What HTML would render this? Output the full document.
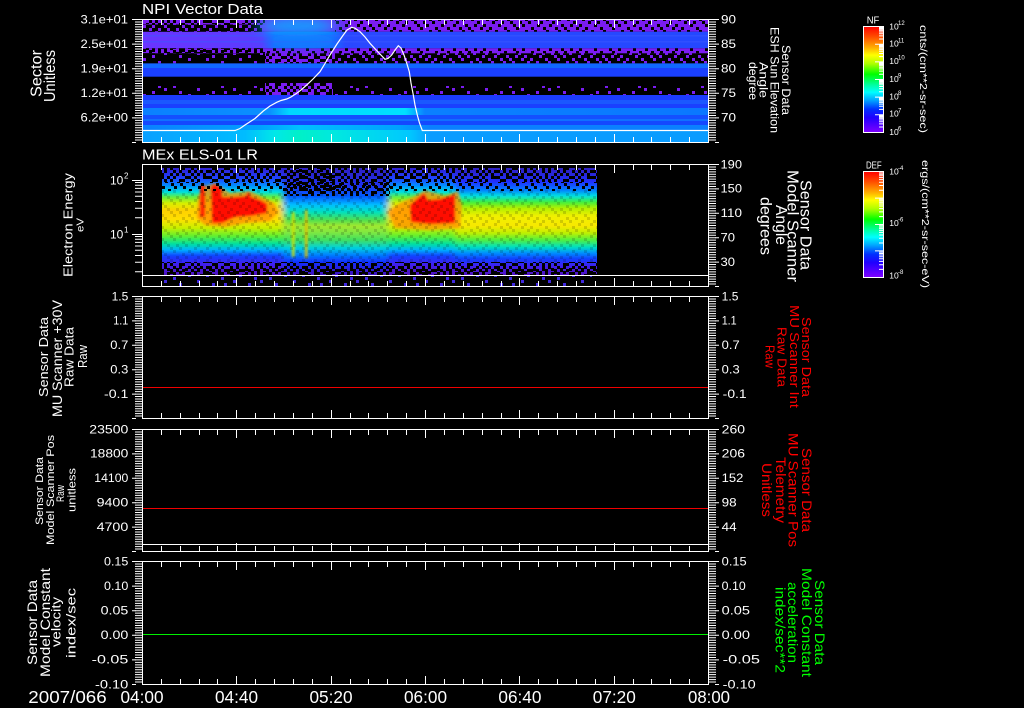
<!DOCTYPE html>
<html><head><meta charset="utf-8"><style>
html,body{margin:0;padding:0;background:#000;}
body{width:1024px;height:708px;overflow:hidden;position:relative}
svg{display:block;position:absolute;left:0;top:0}
text{font-family:"Liberation Sans",sans-serif;fill:#fff}
</style></head><body>
<svg width="1024" height="708" viewBox="0 0 1024 708" xmlns="http://www.w3.org/2000/svg" xmlns:xlink="http://www.w3.org/1999/xlink">
<defs>
<path id="cS" fill="#000" d="M3,0h3v3h-3zM18,0h3v3h-3zM33,0h3v3h-3zM42,0h3v3h-3zM57,0h3v3h-3zM69,0h3v3h-3zM81,0h3v3h-3zM90,0h3v3h-3zM0,3h3v3h-3zM9,3h3v3h-3zM24,3h3v3h-3zM36,3h3v3h-3zM51,3h3v3h-3zM63,3h3v3h-3zM75,3h3v3h-3zM84,3h3v3h-3zM6,6h3v3h-3zM15,6h3v3h-3zM27,6h3v3h-3zM45,6h3v3h-3zM54,6h3v3h-3zM66,6h3v3h-3zM78,6h3v3h-3zM87,6h3v3h-3zM12,9h3v3h-3zM21,9h3v3h-3zM30,9h3v3h-3zM39,9h3v3h-3zM48,9h3v3h-3zM60,9h3v3h-3zM72,9h3v3h-3zM93,9h3v3h-3z"/>
<path id="cM" fill="#000" d="M0,0h3v3h-3zM6,0h3v3h-3zM12,0h3v3h-3zM21,0h3v3h-3zM27,0h3v3h-3zM36,0h3v3h-3zM45,0h3v3h-3zM51,0h3v3h-3zM60,0h3v3h-3zM66,0h3v3h-3zM75,0h3v3h-3zM81,0h3v3h-3zM87,0h3v3h-3zM93,0h3v3h-3zM3,3h3v3h-3zM9,3h3v3h-3zM15,3h3v3h-3zM18,3h3v3h-3zM24,3h3v3h-3zM30,3h3v3h-3zM33,3h3v3h-3zM39,3h3v3h-3zM48,3h3v3h-3zM57,3h3v3h-3zM63,3h3v3h-3zM69,3h3v3h-3zM78,3h3v3h-3zM84,3h3v3h-3zM90,3h3v3h-3zM0,6h3v3h-3zM9,6h3v3h-3zM12,6h3v3h-3zM21,6h3v3h-3zM24,6h3v3h-3zM36,6h3v3h-3zM42,6h3v3h-3zM48,6h3v3h-3zM54,6h3v3h-3zM60,6h3v3h-3zM72,6h3v3h-3zM75,6h3v3h-3zM81,6h3v3h-3zM90,6h3v3h-3zM93,6h3v3h-3zM3,9h3v3h-3zM6,9h3v3h-3zM15,9h3v3h-3zM18,9h3v3h-3zM27,9h3v3h-3zM33,9h3v3h-3zM39,9h3v3h-3zM45,9h3v3h-3zM51,9h3v3h-3zM57,9h3v3h-3zM66,9h3v3h-3zM69,9h3v3h-3zM78,9h3v3h-3zM84,9h3v3h-3z"/>
<path id="cV" fill="#000" d="M12,0h3v3h-3zM39,0h3v3h-3zM72,0h3v3h-3zM3,3h3v3h-3zM27,3h3v3h-3zM54,3h3v3h-3zM87,3h3v3h-3zM18,6h3v3h-3zM63,6h3v3h-3zM81,6h3v3h-3zM0,9h3v3h-3zM33,9h3v3h-3zM48,9h3v3h-3z"/>
<pattern id="pS" patternUnits="userSpaceOnUse" x="0" y="0" width="96" height="12"><use xlink:href="#cS"/></pattern>
<pattern id="pS2" patternUnits="userSpaceOnUse" x="41" y="7" width="96" height="12"><use xlink:href="#cS"/></pattern>
<pattern id="pM" patternUnits="userSpaceOnUse" x="17" y="2" width="96" height="12"><use xlink:href="#cM"/></pattern>
<pattern id="pV" patternUnits="userSpaceOnUse" x="29" y="4" width="96" height="12"><use xlink:href="#cV"/></pattern>
<mask id="mS" maskUnits="userSpaceOnUse" x="0" y="0" width="1024" height="708"><rect width="1024" height="708" fill="#fff"/><rect width="1024" height="708" fill="url(#pS2)"/></mask>
<mask id="mV" maskUnits="userSpaceOnUse" x="0" y="0" width="1024" height="708"><rect width="1024" height="708" fill="#fff"/><rect width="1024" height="708" fill="url(#pV)"/></mask>

<filter id="gb" x="-50%" y="-50%" width="200%" height="200%"><feGaussianBlur stdDeviation="9 5"/></filter>
<filter id="hb" x="-5%" y="-5%" width="110%" height="110%"><feGaussianBlur stdDeviation="3 0.6"/></filter>
<filter id="rb" x="-10%" y="-10%" width="120%" height="120%"><feGaussianBlur stdDeviation="1.4"/></filter>

<linearGradient id="r3" gradientUnits="userSpaceOnUse" x1="142" y1="0" x2="708" y2="0"><stop offset="0" stop-color="#6a34ff"/><stop offset=".212" stop-color="#5a3cff"/><stop offset=".235" stop-color="#1870ff"/><stop offset=".332" stop-color="#1870ff"/><stop offset=".359" stop-color="#2a48ff"/><stop offset="1" stop-color="#2448ff"/></linearGradient>
<linearGradient id="r9" gradientUnits="userSpaceOnUse" x1="142" y1="0" x2="708" y2="0"><stop offset="0" stop-color="#0a80ff"/><stop offset=".226" stop-color="#0a90ff"/><stop offset=".261" stop-color="#00d8ff"/><stop offset=".465" stop-color="#00e0ff"/><stop offset=".5" stop-color="#0a80ff"/><stop offset="1" stop-color="#0a78ff"/></linearGradient>
<linearGradient id="r11" gradientUnits="userSpaceOnUse" x1="142" y1="0" x2="708" y2="0"><stop offset="0" stop-color="#0a80ff"/><stop offset=".208" stop-color="#00a0ff"/><stop offset=".279" stop-color="#00c0ff"/><stop offset=".456" stop-color="#00a0ff"/><stop offset=".509" stop-color="#0a80ff"/><stop offset="1" stop-color="#0a80ff"/></linearGradient>
<linearGradient id="r12" gradientUnits="userSpaceOnUse" x1="142" y1="0" x2="708" y2="0"><stop offset="0" stop-color="#0aa0ff"/><stop offset=".182" stop-color="#00bcff"/><stop offset=".235" stop-color="#00e8e8"/><stop offset=".279" stop-color="#00f0c8"/><stop offset=".341" stop-color="#00e8e0"/><stop offset=".473" stop-color="#00c8ff"/><stop offset=".509" stop-color="#0a9cff"/><stop offset="1" stop-color="#0a9cff"/></linearGradient>

<linearGradient id="gS" gradientUnits="userSpaceOnUse" x1="0" y1="168" x2="0" y2="275"><stop offset="0" stop-color="#3020d0"/><stop offset=".093" stop-color="#2040ff"/><stop offset=".168" stop-color="#0090ff"/><stop offset=".224" stop-color="#00e0e0"/><stop offset=".271" stop-color="#60f040"/><stop offset=".33" stop-color="#d8f000"/><stop offset=".40" stop-color="#ffd000"/><stop offset=".48" stop-color="#ffe000"/><stop offset=".56" stop-color="#c8f000"/><stop offset=".636" stop-color="#60f030"/><stop offset=".71" stop-color="#00e0a0"/><stop offset=".766" stop-color="#00b0ff"/><stop offset=".822" stop-color="#1040ff"/><stop offset=".897" stop-color="#4020f0"/><stop offset="1" stop-color="#5010c0"/></linearGradient>
<linearGradient id="gW" gradientUnits="userSpaceOnUse" x1="0" y1="168" x2="0" y2="275"><stop offset="0" stop-color="#3020c0"/><stop offset=".159" stop-color="#2030f0"/><stop offset=".271" stop-color="#0060ff"/><stop offset=".346" stop-color="#00c0ff"/><stop offset=".411" stop-color="#00e0c0"/><stop offset=".486" stop-color="#50e050"/><stop offset=".54" stop-color="#a0e830"/><stop offset=".6" stop-color="#80e840"/><stop offset=".673" stop-color="#40e060"/><stop offset=".748" stop-color="#00d0e0"/><stop offset=".813" stop-color="#0080ff"/><stop offset=".879" stop-color="#1030ff"/><stop offset="1" stop-color="#4010c0"/></linearGradient>
<linearGradient id="gT" gradientUnits="userSpaceOnUse" x1="0" y1="168" x2="0" y2="275"><stop offset="0" stop-color="#3020c0"/><stop offset=".131" stop-color="#2030ff"/><stop offset=".206" stop-color="#0080ff"/><stop offset=".262" stop-color="#00e0e0"/><stop offset=".318" stop-color="#40f040"/><stop offset=".374" stop-color="#b0f000"/><stop offset=".449" stop-color="#f0f000"/><stop offset=".542" stop-color="#f8e800"/><stop offset=".607" stop-color="#c0f000"/><stop offset=".673" stop-color="#50f040"/><stop offset=".738" stop-color="#00e0c0"/><stop offset=".794" stop-color="#0090ff"/><stop offset=".85" stop-color="#1040ff"/><stop offset=".916" stop-color="#4020f0"/><stop offset="1" stop-color="#5010c0"/></linearGradient>

<linearGradient id="cb" x1="0" y1="0" x2="0" y2="1"><stop offset="0" stop-color="#ff0000"/><stop offset=".1" stop-color="#ff5000"/><stop offset=".2" stop-color="#ffb000"/><stop offset=".27" stop-color="#ffff00"/><stop offset=".35" stop-color="#b0ff00"/><stop offset=".45" stop-color="#00ff00"/><stop offset=".55" stop-color="#00ffa0"/><stop offset=".62" stop-color="#00ffff"/><stop offset=".7" stop-color="#00a0ff"/><stop offset=".78" stop-color="#0030ff"/><stop offset=".86" stop-color="#2000ff"/><stop offset="1" stop-color="#8000ff"/></linearGradient>

<clipPath id="c1"><rect x="143" y="20" width="565" height="122"/></clipPath>
<clipPath id="c2"><rect x="162" y="168" width="435" height="107"/></clipPath>

<path id="xt" stroke="#fff" stroke-width="1" fill="none" d="M142.5,0v9M161.5,0v6M180.5,0v6M199.5,0v6M217.5,0v6M236.5,0v9M255.5,0v6M274.5,0v6M293.5,0v6M312.5,0v6M331.5,0v9M350.5,0v6M368.5,0v6M387.5,0v6M406.5,0v6M425.5,0v9M444.5,0v6M463.5,0v6M482.5,0v6M501.5,0v6M519.5,0v9M538.5,0v6M557.5,0v6M576.5,0v6M595.5,0v6M614.5,0v9M633.5,0v6M651.5,0v6M670.5,0v6M689.5,0v6M708.5,0v9"/>
<path id="d44" stroke="#fff" stroke-width="1" fill="none" d="M0,0h7m-7,2.44h7m-7,2.44h7m-7,2.44h7m-7,2.44h7m-7,2.44h7m-7,2.44h7m-7,2.44h7m-7,2.44h7m-7,2.44h7m-7,2.44h7m-7,2.44h7m-7,2.44h7m-7,2.44h7m-7,2.44h7m-7,2.44h7m-7,2.44h7m-7,2.44h7m-7,2.44h7m-7,2.44h7m-7,2.44h7m-7,2.44h7m-7,2.44h7m-7,2.44h7m-7,2.44h7m-7,2.44h7m-7,2.44h7m-7,2.44h7m-7,2.44h7m-7,2.44h7m-7,2.44h7m-7,2.44h7m-7,2.44h7m-7,2.44h7m-7,2.44h7m-7,2.44h7m-7,2.44h7m-7,2.44h7m-7,2.44h7m-7,2.44h7m-7,2.44h7m-7,2.44h7m-7,2.44h7m-7,2.44h7m-7,2.44h7m-7,2.44h7m-7,2.44h7m-7,2.44h7m-7,2.44h7m-7,2.44h7"/>
<path id="d46" stroke="#fff" stroke-width="1" fill="none" d="M0,0h7m-7,2.46h7m-7,2.46h7m-7,2.46h7m-7,2.46h7m-7,2.46h7m-7,2.46h7m-7,2.46h7m-7,2.46h7m-7,2.46h7m-7,2.46h7m-7,2.46h7m-7,2.46h7m-7,2.46h7m-7,2.46h7m-7,2.46h7m-7,2.46h7m-7,2.46h7m-7,2.46h7m-7,2.46h7m-7,2.46h7m-7,2.46h7m-7,2.46h7m-7,2.46h7m-7,2.46h7m-7,2.46h7m-7,2.46h7m-7,2.46h7m-7,2.46h7m-7,2.46h7m-7,2.46h7m-7,2.46h7m-7,2.46h7m-7,2.46h7m-7,2.46h7m-7,2.46h7m-7,2.46h7m-7,2.46h7m-7,2.46h7m-7,2.46h7m-7,2.46h7m-7,2.46h7m-7,2.46h7m-7,2.46h7m-7,2.46h7m-7,2.46h7m-7,2.46h7m-7,2.46h7m-7,2.46h7m-7,2.46h7"/>
</defs>

<rect width="1024" height="708" fill="#000"/>

<!-- ================= PANEL 1 ================= -->
<g clip-path="url(#c1)">
 <rect x="142" y="20" width="566" height="4.5" fill="#7a1cf2"/>
 <rect x="142" y="24.5" width="566" height="7.2" fill="#7a1cf2"/>
 <rect x="142" y="31.7" width="566" height="16.6" fill="url(#r3)"/>
 <rect x="142" y="35" width="566" height="1.5" fill="#3a58ff" opacity=".5"/>
 <rect x="142" y="41" width="566" height="1.5" fill="#3a58ff" opacity=".5"/>
 <rect x="142" y="48.3" width="566" height="15" fill="#7a1cf2"/>
 <rect x="142" y="63.3" width="566" height="4.7" fill="#1068ff"/>
 <rect x="142" y="68" width="566" height="8.7" fill="#1a40ff"/>
 <rect x="142" y="95" width="566" height="5" fill="#1c3cff"/>
 <rect x="142" y="100" width="566" height="4" fill="#1a58ff"/>
 <rect x="142" y="104" width="566" height="4" fill="#1a40ff"/>
 <rect x="142" y="108" width="566" height="7" fill="url(#r9)"/>
 <rect x="142" y="115" width="566" height="4" fill="#1450ff"/>
 <rect x="142" y="119" width="566" height="2" fill="#1070ff"/>
 <rect x="142" y="121" width="566" height="4" fill="#1448ff"/>
 <rect x="142" y="125" width="566" height="5" fill="url(#r11)"/>
 <rect x="142" y="130" width="566" height="12" fill="url(#r12)"/>
 <rect x="142" y="86" width="566" height="9" fill="#7a1cf2"/>
 <rect x="265" y="83" width="68" height="12" fill="#7a1cf2"/>
 <!-- speckles -->
 <rect x="142" y="20" width="123" height="4.5" fill="url(#pM)"/>
 <rect x="335" y="20" width="373" height="4.5" fill="url(#pS)"/>
 <rect x="142" y="24.5" width="120" height="7.2" fill="#000" mask="url(#mS)"/>
 <rect x="335" y="24.5" width="373" height="7.2" fill="url(#pS)"/>
 <rect x="142" y="48.3" width="123" height="5" fill="url(#pS2)"/>
 <rect x="142" y="48.3" width="123" height="5" fill="url(#pM)"/>
 <rect x="265" y="48.3" width="443" height="5" fill="url(#pS)"/>
 <rect x="142" y="53.3" width="123" height="10" fill="#000" mask="url(#mV)"/>
 <rect x="265" y="53.3" width="70" height="10" fill="url(#pM)"/>
 <rect x="335" y="53.3" width="373" height="10" fill="#000" mask="url(#mS)"/>
 <rect x="142" y="86" width="123" height="9" fill="#000" mask="url(#mV)"/>
 <rect x="333" y="86" width="375" height="9" fill="#000" mask="url(#mV)"/>
 <rect x="265" y="83" width="68" height="12" fill="url(#pM)"/>
 <!-- glow -->
 <ellipse cx="298" cy="26" rx="40" ry="10" fill="#10a8ff" filter="url(#gb)" opacity="0.85"/>
 <ellipse cx="302" cy="41" rx="34" ry="7" fill="#0a80ff" filter="url(#gb)" opacity="0.6"/>
</g>
<polyline fill="none" stroke="#fff" stroke-width="1.2" points="142.5,130.5 235,130.5 240,128.5 245,125 250,121.7 255,118.5 263.3,111 270,106 276.7,102.3 281,100.5 286.7,99 291,97 296.7,93.3 301,90 306.7,85 313,79 320,71.7 325,63.5 330,55 337,44 343.3,35 347,30 351.7,27.3 355,28.2 360,31.7 365,37 370,43.3 378,52 385,59.3 388,58.5 391.7,55 395,50 398.3,45.7 401,48 404,55 407,64 409.3,71.7 411,83 413.3,95 415,105 417.3,115 419.5,123 422.3,130.5 708,130.5"/>

<!-- ================= PANEL 2 ================= -->
<g clip-path="url(#c2)"><g filter="url(#hb)">
 <rect x="150" y="160" width="135" height="125" fill="url(#gS)"/>
 <rect x="283" y="160" width="105" height="125" fill="url(#gW)"/>
 <rect x="388" y="160" width="67" height="125" fill="url(#gS)"/>
 <rect x="455" y="160" width="160" height="125" fill="url(#gT)"/>
</g></g>
<g clip-path="url(#c2)"><g filter="url(#rb)">
 <polygon points="198,196 206,186 215,183 230,193 250,191 262,197 274,203 278,212 270,221 245,223 225,227 205,225 197,218" fill="#ff8c00" opacity=".75"/>
 <polygon points="211,187 214,184 222,188 222,197 235,197 246,196 248,191 251,197 260,200 267,204 267,213 250,216 235,217 222,223 212,223" fill="#ff1000"/>
 <rect x="200" y="185" width="5" height="32" fill="#ff2000"/>
 <polygon points="388,212 400,203 415,196 425,190 445,196 458,191 462,205 460,228 430,230 395,228" fill="#ff9000" opacity=".75"/>
 <polygon points="410,205 418,198 424,193 428,200 440,199 450,196 455,194 455,223 430,224 411,222" fill="#ff1000"/>
 <rect x="292" y="212" width="2.5" height="45" fill="#d0e000"/>
 <rect x="305" y="210" width="2.5" height="48" fill="#e0c000"/>
</g>
 <rect x="162" y="190" width="435" height="72" fill="url(#pS2)" opacity="0.15"/>
 <rect x="162" y="168" width="435" height="14" fill="url(#pM)"/>
 <rect x="162" y="182" width="435" height="9" fill="url(#pS)"/>
 <rect x="283" y="168" width="107" height="28" fill="url(#pM)"/>
 <rect x="290" y="168" width="45" height="22" fill="url(#pS2)"/>
 <rect x="162" y="262" width="435" height="13" fill="url(#pM)"/>
 <rect x="162" y="268" width="435" height="7" fill="url(#pS2)"/>
</g>
<rect x="162" y="276" width="430" height="10" fill="#4028e0"/>
<rect x="162" y="276" width="430" height="10" fill="#000" mask="url(#mV)"/>
<line x1="142" y1="275.5" x2="708" y2="275.5" stroke="#fff" stroke-width="1"/>

<!-- data lines -->
<line x1="143" y1="387.5" x2="708" y2="387.5" stroke="#f00000" stroke-width="1"/>
<line x1="143" y1="508.5" x2="708" y2="508.5" stroke="#f00000" stroke-width="1"/>
<line x1="142" y1="544.5" x2="708" y2="544.5" stroke="#fff" stroke-width="1"/>
<line x1="143" y1="634.5" x2="708" y2="634.5" stroke="#00f000" stroke-width="1"/>

<!-- frames -->
<g fill="none" stroke="#fff" stroke-width="1">
 <rect x="142.5" y="19.5" width="566" height="123"/>
 <rect x="142.5" y="164.5" width="566" height="122"/>
 <rect x="142.5" y="296.5" width="566" height="122"/>
 <rect x="142.5" y="429.5" width="566" height="122"/>
 <rect x="142.5" y="561.5" width="566" height="123"/>
</g>

<!-- x ticks -->
<use xlink:href="#xt" transform="translate(0,19)"/>
<use xlink:href="#xt" transform="translate(0,143) scale(1,-1)"/>
<use xlink:href="#xt" transform="translate(0,164)"/>
<use xlink:href="#xt" transform="translate(0,287) scale(1,-1)"/>
<use xlink:href="#xt" transform="translate(0,296)"/>
<use xlink:href="#xt" transform="translate(0,419) scale(1,-1)"/>
<use xlink:href="#xt" transform="translate(0,429)"/>
<use xlink:href="#xt" transform="translate(0,552) scale(1,-1)"/>
<use xlink:href="#xt" transform="translate(0,561)"/>
<use xlink:href="#xt" transform="translate(0,685) scale(1,-1)"/>

<!-- dense y ticks -->
<use xlink:href="#d46" transform="translate(135,19.5)"/>
<use xlink:href="#d46" transform="translate(709,19.5)"/>
<use xlink:href="#d44" transform="translate(709,164.5)"/>
<use xlink:href="#d44" transform="translate(135,296.5)"/>
<use xlink:href="#d44" transform="translate(709,296.5)"/>
<use xlink:href="#d44" transform="translate(135,429.5)"/>
<use xlink:href="#d44" transform="translate(709,429.5)"/>
<use xlink:href="#d46" transform="translate(135,561.5)"/>
<use xlink:href="#d46" transform="translate(709,561.5)"/>

<!-- major y ticks & log ticks -->
<path stroke="#fff" stroke-width="1" fill="none" d="
M132,19.5h4M132,44.1h4M132,68.7h4M132,93.3h4M132,117.9h4M132,142.5h4
M715,19.5h4M715,44.1h4M715,68.7h4M715,93.3h4M715,117.9h4M715,142.5h4
M132,180.5h10M132,234.5h10
M135,271.7h7M135,262.2h7M135,255.5h7M135,250.3h7M135,246h7M135,242.4h7M135,239.2h7M135,236.5h7
M135,217.7h7M135,208.2h7M135,201.5h7M135,196.3h7M135,192h7M135,188.4h7M135,185.2h7M135,182.5h7
M715,164.5h4M715,188.9h4M715,213.3h4M715,237.7h4M715,262.1h4M715,286.5h4
M132,296.5h4M132,320.9h4M132,345.3h4M132,369.7h4M132,394.1h4M132,418.5h4
M715,296.5h4M715,320.9h4M715,345.3h4M715,369.7h4M715,394.1h4M715,418.5h4
M132,429.5h4M132,453.9h4M132,478.3h4M132,502.7h4M132,527.1h4M132,551.5h4
M715,429.5h4M715,453.9h4M715,478.3h4M715,502.7h4M715,527.1h4M715,551.5h4
M132,561.5h4M132,586.1h4M132,610.7h4M132,635.3h4M132,659.9h4M132,684.5h4
M715,561.5h4M715,586.1h4M715,610.7h4M715,635.3h4M715,659.9h4M715,684.5h4"/>

<!-- titles -->
<text x="142" y="14" font-size="15" textLength="121" lengthAdjust="spacingAndGlyphs">NPI Vector Data</text>
<text x="142" y="159.3" font-size="15" textLength="116" lengthAdjust="spacingAndGlyphs">MEx ELS-01 LR</text>

<!-- left tick labels -->
<g font-size="11.5">
 <text x="80.5" y="23.3" textLength="47.5" lengthAdjust="spacingAndGlyphs">3.1e+01</text>
 <text x="80.5" y="47.9" textLength="47.5" lengthAdjust="spacingAndGlyphs">2.5e+01</text>
 <text x="80.5" y="72.5" textLength="47.5" lengthAdjust="spacingAndGlyphs">1.9e+01</text>
 <text x="80.5" y="97.1" textLength="47.5" lengthAdjust="spacingAndGlyphs">1.2e+01</text>
 <text x="80.5" y="121.7" textLength="47.5" lengthAdjust="spacingAndGlyphs">6.2e+00</text>
 <text x="110" y="184.3" textLength="13.3" lengthAdjust="spacingAndGlyphs">10</text>
 <text x="124" y="178.5" font-size="8">2</text>
 <text x="110" y="238.3" textLength="13.3" lengthAdjust="spacingAndGlyphs">10</text>
 <text x="124" y="232.5" font-size="8">1</text>
 <text x="111.6" y="300.3" textLength="16.7" lengthAdjust="spacingAndGlyphs">1.5</text>
 <text x="113.3" y="324.7" textLength="15" lengthAdjust="spacingAndGlyphs">1.1</text>
 <text x="110.3" y="349.1" textLength="18" lengthAdjust="spacingAndGlyphs">0.7</text>
 <text x="110.3" y="373.5" textLength="18" lengthAdjust="spacingAndGlyphs">0.3</text>
 <text x="104" y="397.9" textLength="24.3" lengthAdjust="spacingAndGlyphs">-0.1</text>
 <text x="89.3" y="433.3" textLength="39" lengthAdjust="spacingAndGlyphs">23500</text>
 <text x="90" y="457.7" textLength="38.3" lengthAdjust="spacingAndGlyphs">18800</text>
 <text x="94.3" y="482.1" textLength="34" lengthAdjust="spacingAndGlyphs">14100</text>
 <text x="96.6" y="506.5" textLength="31.7" lengthAdjust="spacingAndGlyphs">9400</text>
 <text x="96.6" y="530.9" textLength="31.7" lengthAdjust="spacingAndGlyphs">4700</text>
 <text x="104" y="565.3" textLength="24.3" lengthAdjust="spacingAndGlyphs">0.15</text>
 <text x="104" y="589.9" textLength="24.3" lengthAdjust="spacingAndGlyphs">0.10</text>
 <text x="100.6" y="614.5" textLength="27.7" lengthAdjust="spacingAndGlyphs">0.05</text>
 <text x="100.6" y="639.1" textLength="27.7" lengthAdjust="spacingAndGlyphs">0.00</text>
 <text x="91.6" y="663.7" textLength="36.7" lengthAdjust="spacingAndGlyphs">-0.05</text>
 <text x="95" y="688.3" textLength="33.3" lengthAdjust="spacingAndGlyphs">-0.10</text>
</g>

<!-- right tick labels -->
<g font-size="11.5">
 <text x="721" y="23.3" textLength="15" lengthAdjust="spacingAndGlyphs">90</text>
 <text x="721" y="47.9" textLength="15" lengthAdjust="spacingAndGlyphs">85</text>
 <text x="721" y="72.5" textLength="15" lengthAdjust="spacingAndGlyphs">80</text>
 <text x="721" y="97.1" textLength="15" lengthAdjust="spacingAndGlyphs">75</text>
 <text x="721" y="121.7" textLength="15" lengthAdjust="spacingAndGlyphs">70</text>
 <text x="720.5" y="168.3" textLength="21.5" lengthAdjust="spacingAndGlyphs">190</text>
 <text x="720.5" y="192.7" textLength="21.5" lengthAdjust="spacingAndGlyphs">150</text>
 <text x="720.5" y="217.1" textLength="21.5" lengthAdjust="spacingAndGlyphs">110</text>
 <text x="720.5" y="241.5" textLength="14.5" lengthAdjust="spacingAndGlyphs">70</text>
 <text x="720.5" y="265.9" textLength="14.5" lengthAdjust="spacingAndGlyphs">30</text>
 <text x="721.7" y="300.3" textLength="16.7" lengthAdjust="spacingAndGlyphs">1.5</text>
 <text x="721.7" y="324.7" textLength="15" lengthAdjust="spacingAndGlyphs">1.1</text>
 <text x="721.7" y="349.1" textLength="18" lengthAdjust="spacingAndGlyphs">0.7</text>
 <text x="721.7" y="373.5" textLength="18" lengthAdjust="spacingAndGlyphs">0.3</text>
 <text x="722.7" y="397.9" textLength="24" lengthAdjust="spacingAndGlyphs">-0.1</text>
 <text x="721.7" y="433.3" textLength="23.3" lengthAdjust="spacingAndGlyphs">260</text>
 <text x="721.7" y="457.7" textLength="23.3" lengthAdjust="spacingAndGlyphs">206</text>
 <text x="721.7" y="482.1" textLength="21.7" lengthAdjust="spacingAndGlyphs">152</text>
 <text x="721.7" y="506.5" textLength="15" lengthAdjust="spacingAndGlyphs">98</text>
 <text x="721.7" y="530.9" textLength="15" lengthAdjust="spacingAndGlyphs">44</text>
 <text x="721.7" y="565.3" textLength="25" lengthAdjust="spacingAndGlyphs">0.15</text>
 <text x="721.7" y="589.9" textLength="24" lengthAdjust="spacingAndGlyphs">0.10</text>
 <text x="721.7" y="614.5" textLength="28.3" lengthAdjust="spacingAndGlyphs">0.05</text>
 <text x="721.7" y="639.1" textLength="28.3" lengthAdjust="spacingAndGlyphs">0.00</text>
 <text x="722.7" y="663.7" textLength="37.3" lengthAdjust="spacingAndGlyphs">-0.05</text>
 <text x="722.7" y="688.3" textLength="33" lengthAdjust="spacingAndGlyphs">-0.10</text>
</g>

<!-- time labels -->
<g font-size="17.5" text-anchor="middle">
 <text x="67.5" y="703" textLength="78.4" lengthAdjust="spacingAndGlyphs">2007/066</text>
 <text x="142" y="703" textLength="43" lengthAdjust="spacingAndGlyphs">04:00</text>
 <text x="236.5" y="703" textLength="43" lengthAdjust="spacingAndGlyphs">04:40</text>
 <text x="331" y="703" textLength="43" lengthAdjust="spacingAndGlyphs">05:20</text>
 <text x="425.5" y="703" textLength="43" lengthAdjust="spacingAndGlyphs">06:00</text>
 <text x="519.9" y="703" textLength="43" lengthAdjust="spacingAndGlyphs">06:40</text>
 <text x="614.3" y="703" textLength="43" lengthAdjust="spacingAndGlyphs">07:20</text>
 <text x="709" y="703" textLength="42" lengthAdjust="spacingAndGlyphs">08:00</text>
</g>

<!-- left axis titles (rotated -90) -->
<g text-anchor="middle">
 <text transform="translate(41.5,73.5) rotate(-90)" font-size="16" textLength="47" lengthAdjust="spacingAndGlyphs">Sector</text>
 <text transform="translate(55,76) rotate(-90)" font-size="16" textLength="52" lengthAdjust="spacingAndGlyphs">Unitless</text>
 <text transform="translate(72.5,225) rotate(-90)" font-size="13" textLength="104" lengthAdjust="spacingAndGlyphs">Electron Energy</text>
 <text transform="translate(83.5,225) rotate(-90)" font-size="10" textLength="14" lengthAdjust="spacingAndGlyphs">eV</text>
 <text transform="translate(48,357) rotate(-90)" font-size="13" textLength="80" lengthAdjust="spacingAndGlyphs">Sensor Data</text>
 <text transform="translate(62,358.5) rotate(-90)" font-size="14" textLength="117" lengthAdjust="spacingAndGlyphs">MU Scanner +30V</text>
 <text transform="translate(73.5,357) rotate(-90)" font-size="13" textLength="60" lengthAdjust="spacingAndGlyphs">Raw Data</text>
 <text transform="translate(87,356.5) rotate(-90)" font-size="13" textLength="23" lengthAdjust="spacingAndGlyphs">Raw</text>
 <text transform="translate(43,491) rotate(-90)" font-size="11" textLength="68" lengthAdjust="spacingAndGlyphs">Sensor Data</text>
 <text transform="translate(54,490) rotate(-90)" font-size="11" textLength="110" lengthAdjust="spacingAndGlyphs">Model Scanner Pos</text>
 <text transform="translate(64,493.5) rotate(-90)" font-size="11" textLength="17" lengthAdjust="spacingAndGlyphs">Raw</text>
 <text transform="translate(75.5,490) rotate(-90)" font-size="11" textLength="44" lengthAdjust="spacingAndGlyphs">unitless</text>
 <text transform="translate(37,622.5) rotate(-90)" font-size="14" textLength="85" lengthAdjust="spacingAndGlyphs">Sensor Data</text>
 <text transform="translate(50,622.5) rotate(-90)" font-size="14" textLength="109" lengthAdjust="spacingAndGlyphs">Model Constant</text>
 <text transform="translate(60.5,622) rotate(-90)" font-size="13" textLength="50" lengthAdjust="spacingAndGlyphs">velocity</text>
 <text transform="translate(75.5,623) rotate(-90)" font-size="13" textLength="70" lengthAdjust="spacingAndGlyphs">index/sec</text>
</g>

<!-- right axis titles (rotated 90) -->
<g text-anchor="middle">
 <text transform="translate(782,80) rotate(90)" font-size="12" textLength="70" lengthAdjust="spacingAndGlyphs">Sensor Data</text>
 <text transform="translate(770.5,80) rotate(90)" font-size="12" textLength="106" lengthAdjust="spacingAndGlyphs">ESH Sun Elevation</text>
 <text transform="translate(759.5,80) rotate(90)" font-size="12" textLength="36" lengthAdjust="spacingAndGlyphs">Angle</text>
 <text transform="translate(749,81) rotate(90)" font-size="12" textLength="38" lengthAdjust="spacingAndGlyphs">degree</text>
 <text transform="translate(800.5,225) rotate(90)" font-size="16" textLength="90" lengthAdjust="spacingAndGlyphs">Sensor Data</text>
 <text transform="translate(787.5,226) rotate(90)" font-size="16" textLength="112" lengthAdjust="spacingAndGlyphs">Model Scanner</text>
 <text transform="translate(776,225) rotate(90)" font-size="16" textLength="40" lengthAdjust="spacingAndGlyphs">Angle</text>
 <text transform="translate(760.5,226) rotate(90)" font-size="16" textLength="58" lengthAdjust="spacingAndGlyphs">degrees</text>
</g>
<g text-anchor="middle">
 <text style="fill:#ff0000" transform="translate(802,357) rotate(90)" font-size="13" textLength="80" lengthAdjust="spacingAndGlyphs">Sensor Data</text>
 <text style="fill:#ff0000" transform="translate(790,356.5) rotate(90)" font-size="13" textLength="103" lengthAdjust="spacingAndGlyphs">MU Scanner Int</text>
 <text style="fill:#ff0000" transform="translate(777.5,357) rotate(90)" font-size="13" textLength="60" lengthAdjust="spacingAndGlyphs">Raw Data</text>
 <text style="fill:#ff0000" transform="translate(765.5,356.5) rotate(90)" font-size="13" textLength="23" lengthAdjust="spacingAndGlyphs">Raw</text>
 <text style="fill:#ff0000" transform="translate(802,490) rotate(90)" font-size="14" textLength="84" lengthAdjust="spacingAndGlyphs">Sensor Data</text>
 <text style="fill:#ff0000" transform="translate(788.5,490) rotate(90)" font-size="14" textLength="114" lengthAdjust="spacingAndGlyphs">MU Scanner Pos</text>
 <text style="fill:#ff0000" transform="translate(776,490) rotate(90)" font-size="14" textLength="66" lengthAdjust="spacingAndGlyphs">Telemetry</text>
 <text style="fill:#ff0000" transform="translate(762,490) rotate(90)" font-size="14" textLength="54" lengthAdjust="spacingAndGlyphs">Unitless</text>
</g>
<g text-anchor="middle">
 <text style="fill:#00ff00" transform="translate(815,622.5) rotate(90)" font-size="14" textLength="85" lengthAdjust="spacingAndGlyphs">Sensor Data</text>
 <text style="fill:#00ff00" transform="translate(802,622.5) rotate(90)" font-size="14" textLength="109" lengthAdjust="spacingAndGlyphs">Model Constant</text>
 <text style="fill:#00ff00" transform="translate(788,622.5) rotate(90)" font-size="14" textLength="81" lengthAdjust="spacingAndGlyphs">acceleration</text>
 <text style="fill:#00ff00" transform="translate(775.5,630) rotate(90)" font-size="14" textLength="86" lengthAdjust="spacingAndGlyphs">index/sec**2</text>
</g>

<!-- colorbars -->
<rect x="863.5" y="26.5" width="20" height="106" fill="url(#cb)" stroke="#fff" stroke-width="1"/>
<rect x="863.5" y="171.5" width="20" height="106" fill="url(#cb)" stroke="#fff" stroke-width="1"/>
<path stroke="#fff" stroke-width="1" fill="none" d="
M879,127h4M879,123.9h4M879,121.7h4M879,120h4M879,118.6h4M879,117.4h4M879,116.4h4M879,115.5h4M875,114.7h8
M879,109.4h4M879,106.3h4M879,104.1h4M879,102.4h4M879,101h4M879,99.8h4M879,98.8h4M879,97.9h4M875,97.1h8
M879,91.8h4M879,88.7h4M879,86.5h4M879,84.8h4M879,83.4h4M879,82.2h4M879,81.2h4M879,80.3h4M875,79.5h8
M879,74.2h4M879,71.1h4M879,68.9h4M879,67.2h4M879,65.8h4M879,64.6h4M879,63.6h4M879,62.7h4M875,61.9h8
M879,56.6h4M879,53.5h4M879,51.3h4M879,49.6h4M879,48.2h4M879,47h4M879,46h4M879,45.1h4M875,44.3h8
M879,39h4M879,35.9h4M879,33.7h4M879,32h4M879,30.6h4M879,29.4h4M879,28.4h4M879,27.5h4
M879,269.4h4M879,264.7h4M879,261.4h4M879,258.8h4M879,256.8h4M879,255h4M879,253.5h4M879,252.1h4M875,250.9h8
M879,243h4M879,238.3h4M879,235h4M879,232.4h4M879,230.4h4M879,228.6h4M879,227.1h4M879,225.7h4M875,224.5h8
M879,216.6h4M879,211.9h4M879,208.6h4M879,206h4M879,204h4M879,202.2h4M879,200.7h4M879,199.3h4M875,198.1h8
M879,190.2h4M879,185.5h4M879,182.2h4M879,179.6h4M879,177.6h4M879,175.8h4M879,174.3h4M879,172.9h4"/>
<text x="866.7" y="23.3" font-size="10" textLength="12.6" lengthAdjust="spacingAndGlyphs">NF</text>
<text x="866" y="168.3" font-size="10" textLength="15.7" lengthAdjust="spacingAndGlyphs">DEF</text>
<g font-size="8.5">
 <text x="889.3" y="29.3">10</text><text x="898" y="25" font-size="6">12</text>
 <text x="889.3" y="46.7">10</text><text x="898" y="42.4" font-size="6">11</text>
 <text x="889.3" y="64">10</text><text x="898" y="59.7" font-size="6">10</text>
 <text x="889.3" y="82">10</text><text x="898" y="77.7" font-size="6">9</text>
 <text x="889.3" y="99.3">10</text><text x="898" y="95" font-size="6">8</text>
 <text x="889.3" y="116.7">10</text><text x="898" y="112.4" font-size="6">7</text>
 <text x="889.3" y="135">10</text><text x="898" y="130.7" font-size="6">6</text>
 <text x="889.3" y="174.3">10</text><text x="898" y="170" font-size="6">-4</text>
 <text x="889.3" y="226">10</text><text x="898" y="221.7" font-size="6">-6</text>
 <text x="889.3" y="278.3">10</text><text x="898" y="274" font-size="6">-8</text>
</g>
<g text-anchor="middle">
 <text transform="translate(920,79) rotate(90)" font-size="10.5" textLength="108" lengthAdjust="spacingAndGlyphs">cnts/(cm**2-sr-sec)</text>
 <text transform="translate(922,224) rotate(90)" font-size="10.5" textLength="128" lengthAdjust="spacingAndGlyphs">ergs/(cm**2-sr-sec-eV)</text>
</g>
</svg>
</body></html>
